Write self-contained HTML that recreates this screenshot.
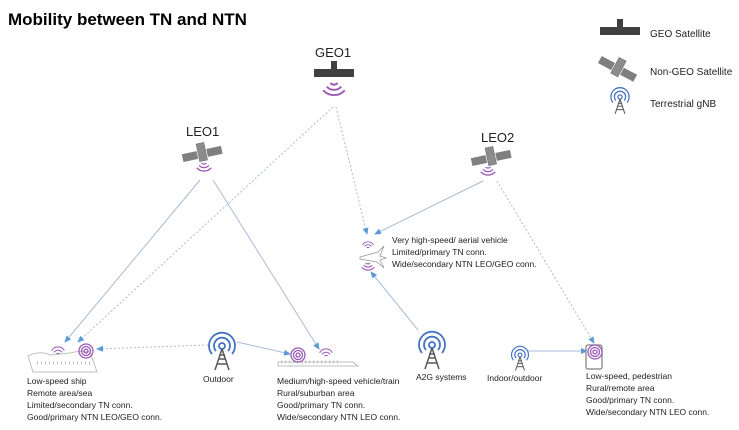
<!DOCTYPE html>
<html><head><meta charset="utf-8"><style>
html,body{margin:0;padding:0;background:#fff;width:739px;height:430px;overflow:hidden}
svg{display:block;font-family:"Liberation Sans",sans-serif}
</style></head><body>
<svg width="739" height="430" viewBox="0 0 739 430">
<defs>
<marker id="a" markerWidth="8" markerHeight="8" refX="6" refY="3" orient="auto" markerUnits="userSpaceOnUse"><path d="M0,0 L7,3 L0,6z" fill="#5b9bd5"/></marker>
<g id="geo"><rect x="-20" y="-4" width="17" height="8" fill="#404040"/><rect x="3" y="-4" width="17" height="8" fill="#404040"/><rect x="-3" y="-12" width="6" height="16" fill="#404040"/></g>
<g id="leo" transform="rotate(-12)"><rect x="-20" y="-3" width="15" height="8" fill="#7f7f7f"/><rect x="5" y="-3" width="15" height="8" fill="#7f7f7f"/><rect x="-4" y="-10" width="8" height="18" fill="#8c8c8c" stroke="#666" stroke-width="0.5"/></g>
<g id="wv" fill="none" stroke="#9b59b6" stroke-width="1.6"><path d="M-3,0 A4,4 0 0 0 3,0"/><path d="M-6,3 A8,8 0 0 0 6,3"/><path d="M-9,6 A12,12 0 0 0 9,6"/></g>
<g id="tw"><g fill="none" stroke="#4472c4" stroke-width="1.8"><circle cx="0" cy="0" r="3"/><path d="M-6,5 A8,8 0 1 1 6,5"/><path d="M-10,8 A13,13 0 1 1 10,8"/></g><path d="M0,3 L-7,24 M0,3 L7,24 M-4,13 L4,13 M-5,18 L5,18 M-3,9 L3,9" stroke="#595959" stroke-width="1.5" fill="none"/></g>
<g id="tg" fill="none" stroke="#9b59b6" stroke-width="1.3"><circle r="2"/><circle r="4.5"/><circle r="7"/></g>
<g id="wu" fill="none" stroke="#9b59b6" stroke-width="1.3"><path d="M-2,0 A3,3 0 0 1 2,0"/><path d="M-5,-2 A6,6 0 0 1 5,-2"/><path d="M-8,-4 A9,9 0 0 1 8,-4"/></g>
</defs>
<text x="8" y="25" font-size="17" font-weight="bold" fill="#000">Mobility between TN and NTN</text>
<!-- legend -->
<use href="#geo" transform="translate(620,31)"/>
<text x="650" y="37" font-size="10" fill="#222">GEO Satellite</text>
<use href="#leo" transform="translate(618,68) rotate(40)"/>
<text x="650" y="75" font-size="10" fill="#222">Non-GEO Satellite</text>
<use href="#tw" transform="translate(620,97) scale(0.7)"/>
<text x="650" y="107" font-size="10" fill="#222">Terrestrial gNB</text>
<!-- satellites -->
<text x="315" y="57" font-size="13" fill="#222">GEO1</text>
<use href="#geo" transform="translate(334,73)"/>
<use href="#wv" transform="translate(334,83) scale(1.2)"/>
<text x="186" y="136" font-size="13" fill="#222">LEO1</text>
<use href="#leo" transform="translate(202,153)"/>
<use href="#wv" transform="translate(204,163) scale(0.8)"/>
<text x="481" y="142" font-size="13" fill="#222">LEO2</text>
<use href="#leo" transform="translate(491,157)"/>
<use href="#wv" transform="translate(488,167) scale(0.8)"/>
<!-- connectors -->
<g stroke="#a9bcd6" stroke-width="1" fill="none" marker-end="url(#a)">
<line x1="200" y1="180" x2="65" y2="342"/>
<line x1="213" y1="180" x2="319" y2="349"/>
<line x1="333" y1="107" x2="78" y2="342" stroke-dasharray="2,2"/>
<line x1="336" y1="107" x2="367" y2="234" stroke-dasharray="2,2"/>
<line x1="483" y1="181" x2="375" y2="234"/>
<line x1="497" y1="181" x2="594" y2="343" stroke-dasharray="2,2"/>
<line x1="418" y1="330" x2="371" y2="272"/>
<line x1="208" y1="345" x2="97" y2="349" stroke-dasharray="2,2"/>
<line x1="237" y1="342" x2="290" y2="354"/>
<line x1="527" y1="351" x2="587" y2="351"/>
</g>
<!-- ship -->
<path d="M28,356 Q40,350 50,355 L70,353 Q80,350 90,352 L97,372 L33,372 Z" fill="#fff" stroke="#bfbfbf" stroke-width="1"/>
<path d="M37,363 h55" stroke="#bfbfbf" stroke-dasharray="1,3" stroke-width="3"/>
<use href="#wu" transform="translate(58,354) scale(0.8)"/>
<use href="#tg" transform="translate(86,351)"/>
<g font-size="8.5" fill="#222">
<text x="27" y="384">Low-speed ship</text><text x="27" y="396">Remote area/sea</text><text x="27" y="408">Limited/secondary TN conn.</text><text x="27" y="420">Good/primary NTN LEO/GEO conn.</text>
</g>
<use href="#tw" transform="translate(222,346)"/>
<text x="203" y="382" font-size="8.5" fill="#222">Outdoor</text>
<!-- train -->
<path d="M278,362 h75 l5,4 h-80 z" fill="#fff" stroke="#bfbfbf"/>
<path d="M281,362 h60" stroke="#bfbfbf" stroke-dasharray="1,3" stroke-width="3"/>
<use href="#tg" transform="translate(298,355)"/>
<use href="#wu" transform="translate(326,356) scale(0.8)"/>
<g font-size="8.5" fill="#222">
<text x="277" y="384">Medium/high-speed vehicle/train</text><text x="277" y="396">Rural/suburban area</text><text x="277" y="408">Good/primary TN conn.</text><text x="277" y="420">Wide/secondary NTN LEO conn.</text>
</g>
<use href="#tw" transform="translate(432,345)"/>
<text x="416" y="380" font-size="8.5" fill="#222">A2G systems</text>
<use href="#tw" transform="translate(520,355) scale(0.65)"/>
<text x="487" y="381" font-size="8.5" fill="#222">Indoor/outdoor</text>
<!-- phone -->
<rect x="586" y="345" width="16" height="24" rx="2" fill="#fff" stroke="#7f7f7f" stroke-width="1.2"/>
<use href="#tg" transform="translate(595,352)"/>
<g font-size="8.5" fill="#222">
<text x="586" y="379">Low-speed, pedestrian</text><text x="586" y="391">Rural/remote area</text><text x="586" y="403">Good/primary TN conn.</text><text x="586" y="415">Wide/secondary NTN LEO conn.</text>
</g>
<!-- aircraft -->
<path d="M360,257 L378,252 L384,246 L380,256 L386,258 L380,260 L384,268 L377,262 L360,259 Z" fill="#fff" stroke="#999" stroke-width="0.8"/>
<use href="#wu" transform="translate(368,248) scale(0.7)"/>
<use href="#wv" transform="translate(368,263) scale(0.7)"/>
<g font-size="8.5" fill="#222">
<text x="392" y="243">Very high-speed/ aerial vehicle</text><text x="392" y="255">Limited/primary TN conn.</text><text x="392" y="267">Wide/secondary NTN LEO/GEO conn.</text>
</g>
</svg>
</body></html>
